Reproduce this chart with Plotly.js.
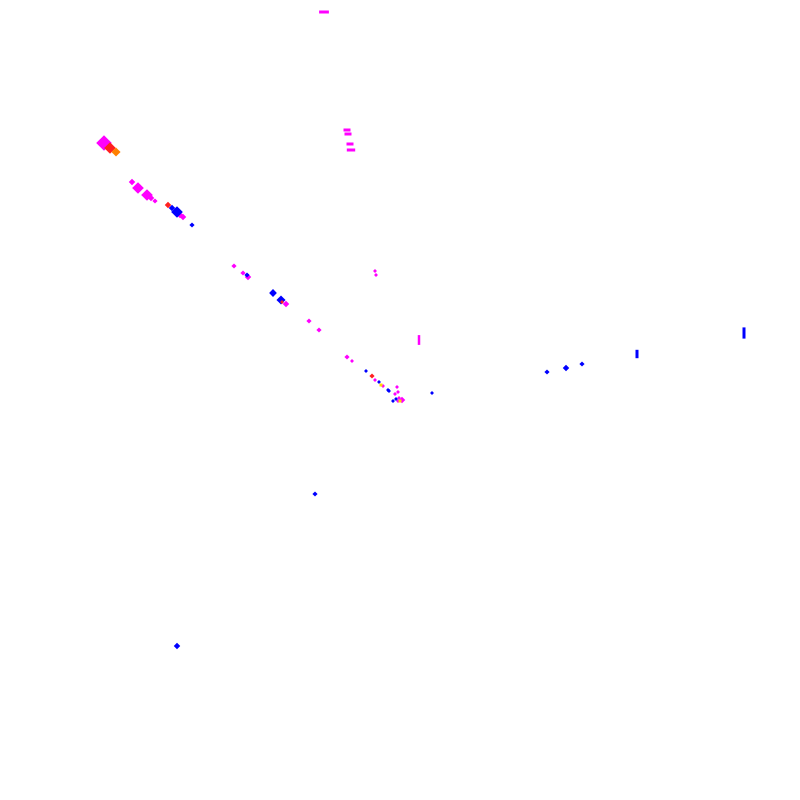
<!DOCTYPE html>
<html><head><meta charset="utf-8">
<script src="https://cdn.plot.ly/plotly-3.0.1.min.js"></script>
<style>html,body{margin:0;padding:0;background:#fff}</style>
</head><body><div id="chart" style="width:800px;height:800px"></div>
<script>
// Magenta points
const magentaX = [104,132,138,147,151,155,180,183,234,243,248,286,309,319,375,376,347,352,375,383,397,398,395,399,402,398];
const magentaY = [143,182,188,195,198,201,215,217,266,273,277,304,321,330,271,275,357,361,380,386,387,392,394,398,400,401];
const magentaS = [12,5,9,9,5,4,5,5,4,4,5,5,4,4,3,3,4,3,3,3,3,3,3,3,5,3];
// Magenta bars (horizontal)
const magBarX = [324,347,348,350,351];
const magBarY = [12,130,134,144,150];
const magBarS = [7,5,5,5,6];
// Magenta vertical dash
const magVX = [419];
const magVY = [340];
const magVS = [7];
// Blue points
const blueX = [172,177,192,247,273,281,366,379,388,389,396,393,432,547,566,582,315,177];
const blueY = [208,212,225,275,293,300,371,382,390,391,399,401,393,372,368,364,494,646];
const blueS = [5,9,4,4,6,7,3,3,3,3,3,3,3,4,5,4,4,5];
// Blue vertical dashes
const blueVX = [637,744];
const blueVY = [354,333];
const blueVS = [6,8];
// Red points
const redX = [110,168,282,372];
const redY = [148,205,302,376];
const redS = [9,5,3,4];
// Orange points
const orangeX = [116];
const orangeY = [152];
const orangeS = [7];
// Yellow points
const yellowX = [381,400];
const yellowY = [385,401];
const yellowS = [3,3];

function pts(x,y,s,color,symbol){
  return {type:'scatter',mode:'markers',x:x,y:y,hoverinfo:'none',
    marker:{size:s,color:color,symbol:symbol,opacity:1,line:{width:0}}};
}
function dashes(x,y,s,color,symbol,w){
  return {type:'scatter',mode:'markers',x:x,y:y,hoverinfo:'none',
    marker:{size:s,color:color,symbol:symbol,opacity:1,line:{width:w,color:color}}};
}
const data = [
  pts(magentaX,magentaY,magentaS,'#ff00ff','diamond'),
  dashes(magBarX,magBarY,magBarS,'#ff00ff','line-ew',3),
  dashes(magVX,magVY,magVS,'#ff00ff','line-ns',2.5),
  pts(blueX,blueY,blueS,'#0000ff','diamond'),
  dashes(blueVX,blueVY,blueVS,'#0000ff','line-ns',3),
  pts(redX,redY,redS,'#ff2020','diamond'),
  pts(orangeX,orangeY,orangeS,'#ff8000','diamond'),
  pts(yellowX,yellowY,yellowS,'#ffd700','square')
];
const layout = {
  width:800,height:800,margin:{l:0,r:0,t:0,b:0},
  paper_bgcolor:'#ffffff',plot_bgcolor:'#ffffff',showlegend:false,
  xaxis:{range:[0,800],visible:false,fixedrange:true},
  yaxis:{range:[800,0],visible:false,fixedrange:true}
};
Plotly.newPlot('chart',data,layout,{staticPlot:true,displayModeBar:false});
</script></body></html>
